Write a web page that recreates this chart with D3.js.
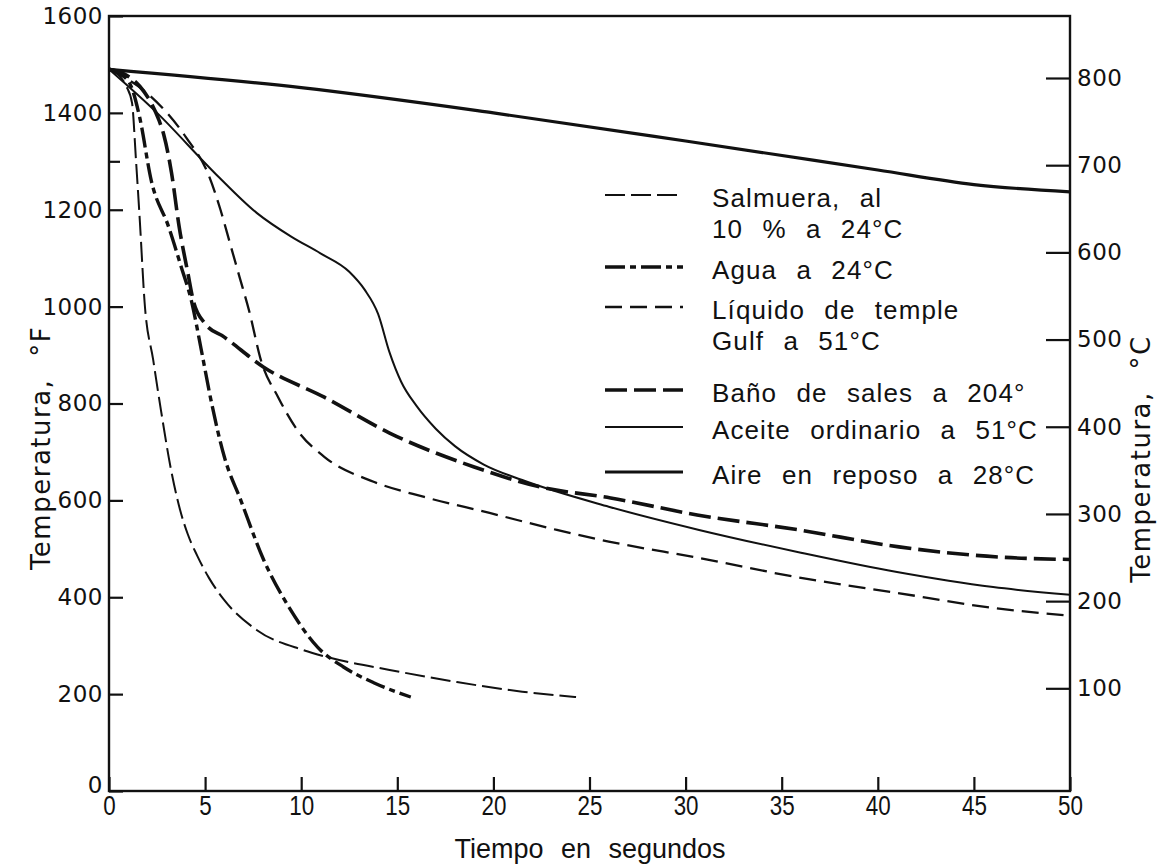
<!DOCTYPE html>
<html><head><meta charset="utf-8">
<script src="https://cdn.jsdelivr.net/npm/d3@7/dist/d3.min.js"></script>
<style>
html,body{margin:0;padding:0;background:#fff;}
svg{display:block;}
</style></head>
<body>
<svg id="chart" width="1160" height="864"></svg>
<script>
// ---- Data (time in s, temperature in °F) ----
const xTicks = [0,5,10,15,20,25,30,35,40,45,50];
const yTicksF = [0,200,400,600,800,1000,1200,1400,1600];
const yMinorF = [1300];
const yTicksC = [100,200,300,400,500,600,700,800];

const tSalmuera = [0,0.5,0.9,1.2,1.4,1.6,1.85,2.3,2.7,3.2,3.7,4.1,4.6,5.2,6.0,7.7,10.1,11.5,14.6,18.1,21.5,24.3];
const fSalmuera = [1490,1478,1455,1420,1305,1180,1010,890,787,669,580,530,485,440,394,332,291,275,250,225,205,194];

const tAgua = [0,0.7,1.2,1.6,2.2,3.1,3.75,4.3,4.8,5.3,6.0,6.85,8.05,9.45,10.85,12.2,13.8,15.7];
const fAgua = [1490,1478,1450,1390,1260,1165,1083,1010,911,808,690,601,477,374,297,256,223,194];

const tGulf = [0,2,4,5.2,5.8,6.3,6.8,7.3,7.9,8.8,9.8,11.2,13.8,16.4,19.8,23.3,26,30.7,36,41,46,50];
const fGulf = [1490,1440,1350,1270,1200,1130,1060,990,890,813,745,690,638,607,574,539,515,481,440,409,378,362];

const tSales = [0,0.8,1.6,2.2,2.6,2.85,3.25,3.65,4.1,4.4,5.0,6.0,8.05,11.2,14.6,19.0,22.4,26.1,30.6,35.9,41.1,46.3,50];
const fSales = [1490,1480,1455,1420,1385,1355,1277,1165,1070,1010,965,937,875,813,739,669,628,605,570,539,504,483,478];

const tAceite = [0,2.5,5.5,7.7,9.5,11,12.5,13.3,14,14.6,15.2,16,17,18,19.5,21.5,26,30.7,36,41,46,50];
const fAceite = [1490,1400,1276,1193,1144,1110,1072,1035,985,905,845,795,748,712,674,642,587,539,492,452,421,405];

const tAire = [0,10,20,30,40,45,50];
const fAire = [1490,1452,1400,1342,1282,1252,1237];

const seriesNames = ["Salmuera","Agua","Gulf","Sales","Aceite","Aire"];
const legendLabels = [["Salmuera, al","10 % a 24°C"],["Agua a 24°C"],["Líquido de temple","Gulf a 51°C"],["Baño de sales a 204°"],["Aceite ordinario a 51°C"],["Aire en reposo a 28°C"]];

// ---- Styles ----
const styles = {
  Salmuera:{w:2.0, dash:"20,6"},
  Agua:{w:3.4, dash:"20,5,6,5"},
  Gulf:{w:2.3, dash:"17,8"},
  Sales:{w:3.6, dash:"22,7"},
  Aceite:{w:2.0, dash:null},
  Aire:{w:3.2, dash:null}
};
const seriesData = {
  Salmuera:[tSalmuera,fSalmuera], Agua:[tAgua,fAgua], Gulf:[tGulf,fGulf],
  Sales:[tSales,fSales], Aceite:[tAceite,fAceite], Aire:[tAire,fAire]
};

const svg = d3.select("#chart");
const L=109, R=1070, T=16, B=791;
const x = d3.scaleLinear().domain([0,50]).range([L,R]);
const y = d3.scaleLinear().domain([0,1600]).range([B,T]);
const toC = f => (f-32)*5/9;
const yC = d3.scaleLinear().domain([toC(0),toC(1600)]).range([B,T]);
const ink = "#111";

// frame
svg.append("rect").attr("x",L).attr("y",T).attr("width",R-L).attr("height",B-T)
  .attr("fill","none").attr("stroke",ink).attr("stroke-width",2.4);

// axes
const tickFont = "'DejaVu Sans', Verdana, sans-serif";
const sansFont = "'Liberation Sans', Arial, sans-serif";

const gl = svg.append("g").attr("transform",`translate(${L},0)`)
  .call(d3.axisLeft(y).tickValues(yTicksF).tickSize(-14).tickPadding(6).tickFormat(d3.format("d")));
const gm = svg.append("g").attr("transform",`translate(${L},0)`)
  .call(d3.axisLeft(y).tickValues(yMinorF).tickSize(-11).tickFormat(""));
const gr = svg.append("g").attr("transform",`translate(${R},0)`)
  .call(d3.axisRight(yC).tickValues(yTicksC).tickSize(-24).tickPadding(7).tickFormat(d3.format("d")));
const gb = svg.append("g").attr("transform",`translate(0,${B})`)
  .call(d3.axisBottom(x).tickValues(xTicks).tickSize(-14).tickPadding(4).tickFormat(d3.format("d")));

[gl,gm,gr,gb].forEach(g=>{
  g.select(".domain").remove();
  g.selectAll(".tick line").attr("stroke",ink).attr("stroke-width",2.2);
  g.selectAll("text").attr("fill",ink);
});
[gl,gr].forEach(g=>g.selectAll("text").style("font-family",tickFont).style("font-size","23px").style("letter-spacing","0.5px"));
gl.selectAll(".tick text").filter(d=>d===0).attr("dy","0.05em");
gb.selectAll("text").style("font-family",sansFont).style("font-size","28px")
  .attr("transform","scale(0.8,1)");

// axis titles
svg.append("text").attr("transform","translate(50,448) rotate(-90)")
  .attr("text-anchor","middle").attr("fill",ink)
  .style("font-family",tickFont).style("font-size","26px")
  .style("letter-spacing","1.5px").style("word-spacing","12px")
  .text("Temperatura, °F");
svg.append("text").attr("transform","translate(1150,459) rotate(-90)")
  .attr("text-anchor","middle").attr("fill",ink)
  .style("font-family",tickFont).style("font-size","26px")
  .style("letter-spacing","1.5px").style("word-spacing","12px")
  .text("Temperatura, °C");
svg.append("text").attr("x",590).attr("y",858).attr("text-anchor","middle").attr("fill",ink)
  .style("font-family",sansFont).style("font-size","27px").style("word-spacing","10px")
  .text("Tiempo en segundos");

// curves
const line = d3.line().x(d=>x(d[0])).y(d=>y(d[1])).curve(d3.curveMonotoneX);
seriesNames.forEach(n=>{
  const [ts,fs] = seriesData[n];
  const pts = ts.map((t,i)=>[t,fs[i]]);
  const p = svg.append("path").datum(pts).attr("d",line)
    .attr("fill","none").attr("stroke",ink).attr("stroke-width",styles[n].w)
    .attr("stroke-linecap","butt").attr("stroke-linejoin","round");
  if(styles[n].dash) p.attr("stroke-dasharray",styles[n].dash);
});

// legend
const legLineY = [195,267,307,390,427,472];
const legX0 = 605, legX1 = 683, legTX = 712;
seriesNames.forEach((n,i)=>{
  const ly = legLineY[i];
  const l = svg.append("line").attr("x1",legX0).attr("x2",legX1).attr("y1",ly).attr("y2",ly)
    .attr("stroke",ink).attr("stroke-width",styles[n].w);
  if(styles[n].dash) l.attr("stroke-dasharray",styles[n].dash);
  legendLabels[i].forEach((s,j)=>{
    svg.append("text").attr("x",legTX).attr("y",ly+12+j*31).attr("fill",ink)
      .style("font-family",sansFont).style("font-size","26px")
      .style("letter-spacing","1.1px").style("word-spacing","11px")
      .text(s);
  });
});
</script>
</body></html>
